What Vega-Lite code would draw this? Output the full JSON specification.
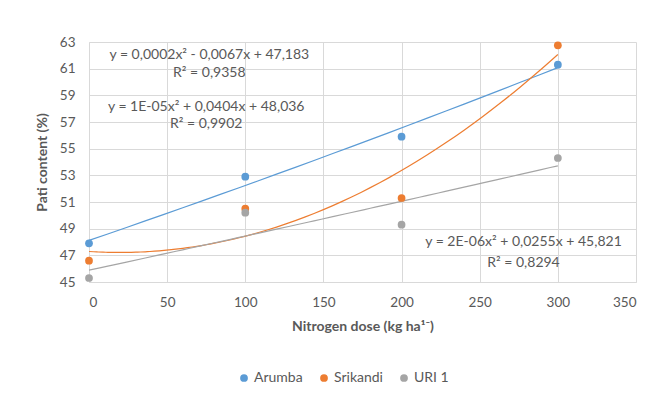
{
  "$schema": "https://vega.github.io/schema/vega-lite/v6.json",
  "width": 547,
  "height": 240,
  "autosize": {"type": "none"},
  "padding": {"left": 89, "top": 42, "right": 28, "bottom": 114},
  "background": "white",
  "config": {
    "font": "Lato",
    "view": {"stroke": null},
    "axis": {
      "gridColor": "#D9D9D9",
      "domainColor": "#D9D9D9",
      "ticks": false,
      "labelOverlap": false,
      "labelColor": "#595959",
      "labelFontSize": 13.5,
      "titleColor": "#595959",
      "titleFontSize": 14,
      "titleFontWeight": "bold",
      "labelFont": "Lato",
      "titleFont": "Lato"
    },
    "legend": {
      "title": null,
      "orient": "none",
      "direction": "horizontal",
      "legendX": 148,
      "legendY": 329,
      "symbolType": "circle",
      "symbolSize": 60,
      "symbolStrokeWidth": 0,
      "labelFontSize": 14,
      "labelColor": "#595959",
      "labelFont": "Lato",
      "columnPadding": 14,
      "labelOffset": 3
    }
  },
  "datasets": {
    "pts": [
      {"variety": "Arumba", "dose": 0, "pati": 47.9},
      {"variety": "Arumba", "dose": 100, "pati": 52.9},
      {"variety": "Arumba", "dose": 200, "pati": 55.9},
      {"variety": "Arumba", "dose": 300, "pati": 61.3},
      {"variety": "Srikandi", "dose": 0, "pati": 46.6},
      {"variety": "Srikandi", "dose": 100, "pati": 50.5},
      {"variety": "Srikandi", "dose": 200, "pati": 51.3},
      {"variety": "Srikandi", "dose": 300, "pati": 62.75},
      {"variety": "URI 1", "dose": 0, "pati": 45.3},
      {"variety": "URI 1", "dose": 100, "pati": 50.2},
      {"variety": "URI 1", "dose": 200, "pati": 49.3},
      {"variety": "URI 1", "dose": 300, "pati": 54.3}
    ],
    "labels": [
      {"x": 77, "y": 62.05, "t": "y = 0,0002x² - 0,0067x + 47,183"},
      {"x": 77, "y": 60.65, "t": "R² = 0,9358"},
      {"x": 75, "y": 58.15, "t": "y = 1E-05x² + 0,0404x + 48,036"},
      {"x": 75, "y": 56.85, "t": "R² = 0,9902"},
      {"x": 278, "y": 48.0, "t": "y = 2E-06x² + 0,0255x + 45,821"},
      {"x": 278, "y": 46.45, "t": "R² = 0,8294"}
    ]
  },
  "encoding": {
    "x": {"field": "dose", "type": "quantitative", "scale": {"domain": [0, 350], "nice": false}, "axis": {"values": [0, 50, 100, 150, 200, 250, 300, 350], "labelOverlap": false, "title": "Nitrogen dose (kg ha¹⁻)", "labelPadding": 13, "titlePadding": 11}},
    "y": {"field": "pati", "type": "quantitative", "scale": {"domain": [45, 63], "nice": false, "zero": false}, "axis": {"values": [45, 47, 49, 51, 53, 55, 57, 59, 61, 63], "labelOverlap": false, "title": "Pati content (%)", "labelPadding": 14, "titlePadding": 10}},
    "color": {"field": "variety", "type": "nominal", "scale": {"domain": ["Arumba", "Srikandi", "URI 1"], "range": ["#5B9BD5", "#ED7D31", "#A5A5A5"]}}
  },
  "layer": [
    {
      "data": {"name": "pts"},
      "transform": [
        {"regression": "pati", "on": "dose", "groupby": ["variety"], "method": "poly", "order": 2, "extent": [0, 300]}
      ],
      "mark": {"type": "line", "strokeWidth": 1.2, "interpolate": "monotone"}
    },
    {
      "data": {"name": "pts"},
      "mark": {"type": "point", "filled": true, "opacity": 1, "size": 60, "shape": "circle"}
    },
    {
      "data": {"name": "labels"},
      "mark": {"type": "text", "fontSize": 14, "color": "#595959", "font": "Lato", "align": "center", "baseline": "middle"},
      "encoding": {
        "x": {"field": "x", "type": "quantitative"},
        "y": {"field": "y", "type": "quantitative"},
        "text": {"field": "t"},
        "color": {"value": "#595959"}
      }
    }
  ]
}
